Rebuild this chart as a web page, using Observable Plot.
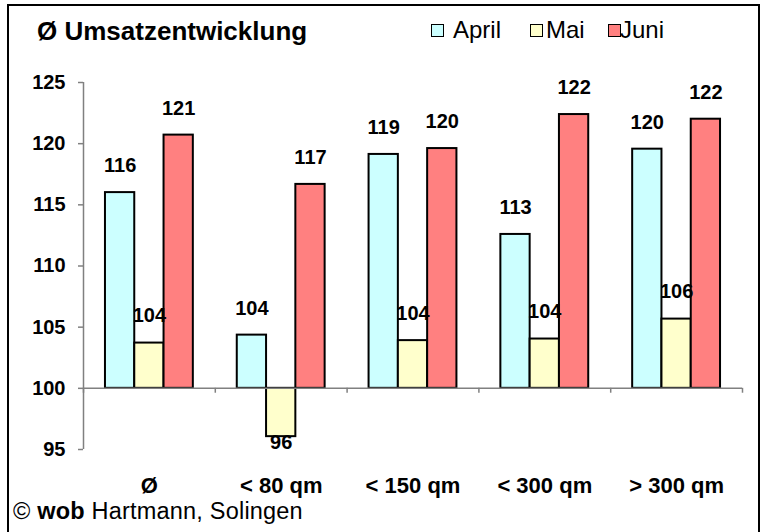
<!DOCTYPE html>
<html><head><meta charset="utf-8">
<script src="https://cdn.jsdelivr.net/npm/d3@7"></script>
<script src="https://cdn.jsdelivr.net/npm/@observablehq/plot@0.6"></script>
<style>
body{margin:0;width:766px;height:532px;overflow:hidden;font-family:"Liberation Sans",Arial,sans-serif;background:#fff;position:relative;color:#000}
#frame{position:absolute;left:7px;top:4px;width:753px;height:560px;border:2px solid #000;box-sizing:border-box;pointer-events:none}
#header{position:relative;height:50px}
#title{position:absolute;left:37px;top:16px;font-size:26px;font-weight:bold;line-height:30px;white-space:nowrap}
.leg{position:absolute;top:15px;font-size:24px;line-height:30px;white-space:nowrap}
.sw{position:absolute;top:24px;width:11px;height:11px;border:1px solid #000}
#chart svg{display:block}
#footer{position:relative;margin-top:-11px;margin-left:13px;font-size:23.5px;line-height:24px;white-space:nowrap;letter-spacing:0.2px}
</style></head>
<body>
<div id="header"></div>
<div id="chart"></div>
<div id="footer">© <b>wob</b> Hartmann, Solingen</div>
<div id="frame"></div>
<script>
const title = "Ø Umsatzentwicklung";
const categories = ["Ø", "< 80 qm", "< 150 qm", "< 300 qm", "> 300 qm"];
const seriesNames = ["April", "Mai", "Juni"];
const seriesColors = ["#CCFFFF", "#FFFFCC", "#FF8080"];
const april = [116.0, 104.35, 119.12, 112.58, 119.55];
const mai = [103.7, 96.05, 103.9, 104.03, 105.66];
const juni = [120.7, 116.67, 119.6, 122.38, 122.0];
const yTicks = [95, 100, 105, 110, 115, 120, 125];
const baseline = 100;

// header
const header = document.getElementById("header");
header.innerHTML = `<div id="title">${title}</div>`;
const legX = [[431, 453], [530, 546], [608, 620]];
seriesNames.forEach((n, i) => {
  const sw = document.createElement("div");
  sw.className = "sw"; sw.style.left = legX[i][0] + "px"; sw.style.background = seriesColors[i];
  header.appendChild(sw);
  const t = document.createElement("div");
  t.className = "leg"; t.style.left = legX[i][1] + "px"; t.textContent = n;
  header.appendChild(t);
});

// data table
const gap = 1.5; // Excel gap width 150%
const slots = seriesNames.length + gap;
const vals = [april, mai, juni];
const data = [];
categories.forEach((c, ci) => {
  seriesNames.forEach((s, si) => {
    const x1 = ci + (gap / 2 + si) / slots;
    data.push({cat: c, series: s, value: vals[si][ci], x1, x2: x1 + 1 / slots, xm: x1 + 0.5 / slots});
  });
});
const above = data.filter(d => d.value >= baseline);
const below = data.filter(d => d.value < baseline);
const catCenters = categories.map((c, i) => ({c, x: i + 0.5}));
const bounds = d3.range(categories.length + 1);

const chart = Plot.plot({
  width: 766,
  height: 460,
  marginLeft: 83,
  marginRight: 24,
  marginTop: 32,
  marginBottom: 61,
  style: {fontFamily: '"Liberation Sans", Arial, sans-serif', background: "transparent", color: "#000", overflow: "visible"},
  x: {domain: [0, categories.length], axis: null},
  y: {domain: [95, 125], axis: null},
  color: {domain: seriesNames, range: seriesColors},
  marks: [
    Plot.ruleX([0], {stroke: "#808080", strokeWidth: 1.5}),
    Plot.axisY({ticks: yTicks, tickSize: 5, tickPadding: 13, stroke: "#808080", strokeWidth: 1.5,
      fontSize: 20, fontWeight: "bold", fill: "#000", tickFormat: d => d, label: null}),
    Plot.rectY(data, {x1: "x1", x2: "x2", y1: baseline, y2: "value", fill: "series", stroke: "#000", strokeWidth: 2}),
    Plot.ruleY([baseline], {stroke: "#808080", strokeWidth: 1.5}),
    Plot.ruleX(bounds, {x: d => d, y1: baseline, y2: baseline - 0.4, stroke: "#808080", strokeWidth: 1.5}),
    Plot.text(above, {x: "xm", y: "value", text: d => Math.round(d.value),
      dy: -27, fontSize: 20, fontWeight: "bold", fill: "#000", lineAnchor: "middle"}),
    Plot.text(below, {x: "xm", y: "value", text: d => Math.round(d.value),
      dy: 6, fontSize: 20, fontWeight: "bold", fill: "#000", lineAnchor: "middle"}),
    Plot.text(catCenters, {x: "x", text: "c", frameAnchor: "bottom", dy: 36, lineAnchor: "middle",
      fontSize: 22, fontWeight: "bold", fill: "#000"})
  ]
});
document.getElementById("chart").appendChild(chart);
</script>
</body></html>
